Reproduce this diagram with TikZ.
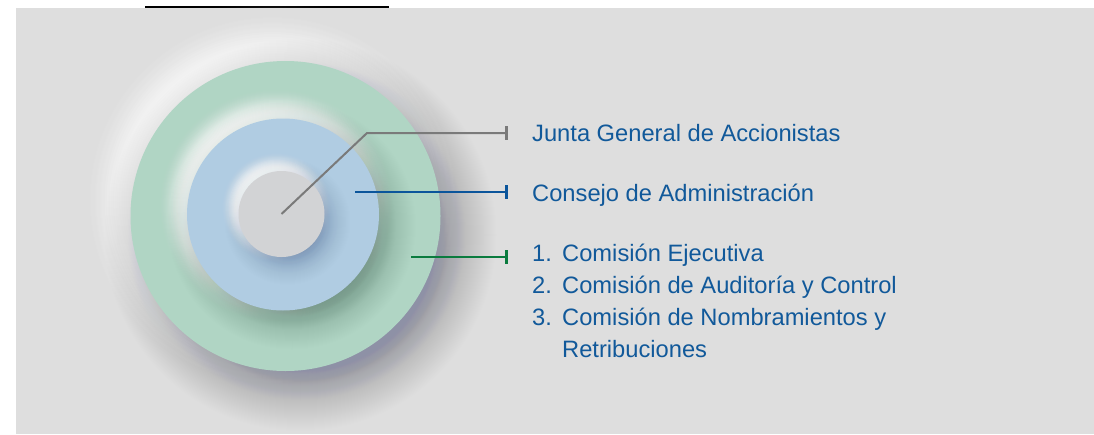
\documentclass[tikz,border=0pt]{standalone}
\usepackage{fontspec}
\setmainfont{Liberation Sans}
\usetikzlibrary{arrows.meta}
\definecolor{bg}{HTML}{DEDEDE}
\definecolor{ringgreen}{HTML}{B0D5C4}
\definecolor{ringblue}{HTML}{B0CCE2}
\definecolor{coregrey}{HTML}{D2D3D5}
\definecolor{txtblue}{HTML}{11599A}
\definecolor{lineblue}{HTML}{0B559B}
\definecolor{linegreen}{HTML}{0A7B3E}
\definecolor{linegrey}{HTML}{7A7A7A}
\definecolor{shadowdark}{HTML}{8E91A6}
\definecolor{shadowgreen}{HTML}{5F8474}
\definecolor{shadowblue}{HTML}{6E88B5}
% soft disk: #1 cx, #2 cy, #3 first radius, #4 radius step, #5 N, #6 colour, #7 max opacity per layer
\newcommand\softdisk[7]{%
  \foreach \i in {0,...,#5}{%
    \pgfmathsetmacro\myop{#7*(1-\i/(#5+1))^2}%
    \fill[#6,opacity=\myop] (#1,#2) circle[radius=#3pt+\i*#4pt];}}
\begin{document}
\begin{tikzpicture}[x=1pt,y=-1pt,
  lbl/.style={anchor=base west, inner sep=0pt, text=txtblue, font=\fontsize{23.7}{28}\selectfont},
  leader/.style={line width=2pt, -{Rectangle[length=3.5pt,width=14pt]}},
  ring/.style={circle, inner sep=0pt, draw=none}]
\useasboundingbox (0,0) rectangle (1094,434);
\fill[bg] (16,8) rectangle (1094,434);
\draw[line width=1.2pt] (145,7) -- (389,7);

% outer ring: glow (upper left) then soft shadow (lower right)
\softdisk{272.5}{200}{130}{1}{85}{white}{0.2}
\softdisk{300.5}{235}{120}{1}{95}{shadowdark}{0.05}
\node[ring, fill=ringgreen, minimum size=310pt] (outer) at (285.5,216) {};

% middle ring inside outer
\begin{scope}
  \clip (285.5,216) circle[radius=155pt];
  \softdisk{276}{205.5}{80}{1}{45}{white}{0.35}
  \softdisk{292}{225.5}{70}{1}{65}{shadowgreen}{0.06}
\end{scope}
\node[ring, fill=ringblue, minimum size=192pt] (mid) at (283,214.5) {};

% core inside middle
\begin{scope}
  \clip (283,214.5) circle[radius=96pt];
  \softdisk{276.5}{207.5}{33}{0.5}{54}{white}{0.3}
  \softdisk{287.5}{222}{28}{1}{42}{shadowblue}{0.07}
\end{scope}
\node[ring, fill=coregrey, minimum size=86pt] (core) at (281.5,214) {};

% connectors
\coordinate (kink) at (367,133);
\coordinate (jtick) at (508,133);
\coordinate (cstart) at (355,192);
\coordinate (ctick) at (508,192);
\coordinate (gstart) at (411,257);
\coordinate (gtick) at (508,257);
\draw[leader, linegrey] (core.center) -- (kink) -- (jtick);
\draw[leader, lineblue] (cstart) -- (ctick);
\draw[leader, linegreen] (gstart) -- (gtick);

% labels
\node[lbl] (jga) at (532,141) {Junta General de Accionistas};
\node[lbl] (cda) at (532,201) {Consejo de Administración};
\node[lbl] (n1) at (532,261) {1.};
\node[lbl] (c1) at (562,261) {Comisión Ejecutiva};
\node[lbl] (n2) at (532,293) {2.};
\node[lbl] (c2) at (562,293) {Comisión de Auditoría y Control};
\node[lbl] (n3) at (532,325) {3.};
\node[lbl] (c3) at (562,325) {Comisión de Nombramientos y};
\node[lbl] (c3b) at (562,357) {Retribuciones};
\end{tikzpicture}
\end{document}
